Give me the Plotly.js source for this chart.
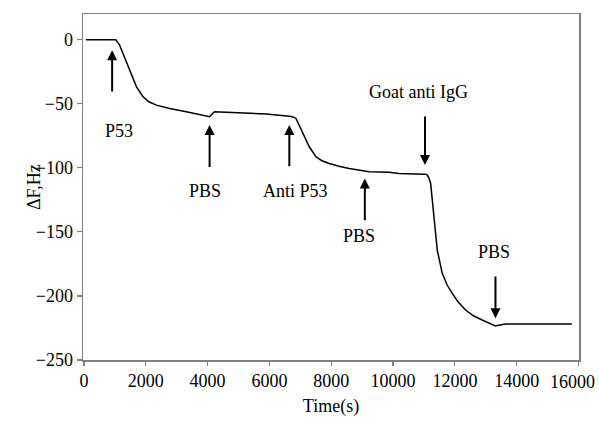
<!DOCTYPE html>
<html>
<head>
<meta charset="utf-8">
<script src="https://cdn.plot.ly/plotly-3.0.1.min.js"></script>
<style>html,body{margin:0;padding:0;background:#fff;}#chart{width:599px;height:422px;}</style>
</head>
<body>
<div id="chart"></div>
<script>
// Time (s) and frequency shift (Hz)
const timeS = [60, 400, 800, 1030, 1150, 1268, 1484, 1700, 1913, 2100, 2345, 2774, 3313, 3742, 4000, 4065, 4150, 4226, 4600, 5032, 5893, 6645, 6760, 6860, 7075, 7290, 7505, 7700, 7936, 8250, 8581, 9226, 9872, 10194, 10700, 11050, 11108, 11160, 11216, 11323, 11430, 11591, 11750, 11914, 12100, 12345, 12600, 12881, 13100, 13313, 13450, 13636, 14500, 15785];
const deltaF = [0, 0, 0, 0, -4, -10.8, -23.8, -36.8, -44.6, -48.5, -51.1, -53.7, -56.3, -58.4, -59.8, -60.2, -58, -56.3, -56.6, -57.1, -58.1, -59.7, -60.3, -61.5, -73.2, -83.6, -91.4, -94.5, -96.6, -98.8, -100.5, -103.1, -103.5, -104.4, -104.8, -105, -105.7, -108, -112.2, -138.2, -164.2, -182.4, -191.5, -198, -204.5, -211, -215.5, -218.8, -221.3, -223.5, -222.6, -221.9, -222, -222];

// Arrow markers: label, arrow x, head y, tail y, label x, label y
const arrowLabels = ["P53", "PBS", "Anti P53", "PBS", "Goat anti IgG", "PBS"];
const arrowX     = [913, 4065, 6645, 9087, 11033, 13313];
const arrowHeadY = [-8.2, -66.7, -66.7, -108.3, -97.9, -217.5];
const arrowTailY = [-41.7, -100.5, -100, -142.1, -58.9, -183.7];
const labelX     = [1119, 3930, 6840, 8893, 10830, 13260];
const labelY     = [-71.4, -118.2, -118.2, -153.1, -40.7, -166.1];

const xTicks = [0, 2000, 4000, 6000, 8000, 10000, 12000, 14000, 16000];
const xTickText = ["0", "2000", "4000", "6000", "8000", "10000", "12000", "14000", "16000"];
const yTicks = [0, -50, -100, -150, -200, -250];

const serif = "'Liberation Serif', 'Times New Roman', serif";
const lastIdx = xTicks.length - 1;
// last x tick label is drawn as an annotation, nudged left so it stays inside the page
const shownTickText = xTickText.map((t, i) => i === lastIdx ? '' : t);

const annotations = [];
for (let i = 0; i < arrowLabels.length; i++) {
  annotations.push({
    x: arrowX[i], y: arrowHeadY[i], ax: arrowX[i], ay: arrowTailY[i],
    xref: 'x', yref: 'y', axref: 'x', ayref: 'y',
    showarrow: true, arrowhead: 2, arrowsize: 1, arrowwidth: 2, arrowcolor: '#000',
    text: ''
  });
  annotations.push({
    x: labelX[i], y: labelY[i], xref: 'x', yref: 'y',
    showarrow: false, text: arrowLabels[i],
    font: {family: serif, size: 18, color: '#000'}
  });
}
annotations.push({
  x: xTicks[lastIdx], y: 0, xref: 'x', yref: 'paper',
  xanchor: 'right', yanchor: 'middle', xshift: 18, yshift: -21.5,
  showarrow: false, text: xTickText[lastIdx],
  font: {family: serif, size: 18, color: '#000'}
});
// y-axis title
annotations.push({
  x: 0, y: 0.5, xref: 'paper', yref: 'paper', xshift: -61,
  showarrow: false, text: 'ΔF,Hz', textangle: -90,
  font: {family: serif, size: 18, color: '#000'}
});

const trace = {
  x: timeS, y: deltaF, type: 'scatter', mode: 'lines',
  line: {color: '#000', width: 1.5},
  hoverinfo: 'skip'
};

const layout = {
  width: 599, height: 422,
  margin: {l: 83, r: 20, t: 14, b: 62, pad: 0},
  paper_bgcolor: '#fff', plot_bgcolor: '#fff',
  showlegend: false,
  font: {family: serif, size: 18, color: '#000'},
  xaxis: {
    range: [-30, 16015], tickvals: xTicks, ticktext: shownTickText,
    ticks: 'outside', ticklen: 4, tickwidth: 1.2, tickcolor: '#808080',
    showline: true, mirror: true, linecolor: '#808080', linewidth: 1.5,
    showgrid: false, zeroline: false,
    tickfont: {family: serif, size: 18, color: '#000'},
    title: {text: 'Time(s)', font: {family: serif, size: 18, color: '#000'}, standoff: 9}
  },
  yaxis: {
    range: [-250, 20], tickvals: yTicks,
    ticks: 'outside', ticklen: 5, tickwidth: 1.2, tickcolor: '#808080',
    showline: true, mirror: true, linecolor: '#808080', linewidth: 1.5,
    showgrid: false, zeroline: false,
    tickfont: {family: serif, size: 18, color: '#000'}
  },
  annotations: annotations
};

Plotly.newPlot('chart', [trace], layout, {displayModeBar: false, staticPlot: true});
</script>
</body>
</html>
